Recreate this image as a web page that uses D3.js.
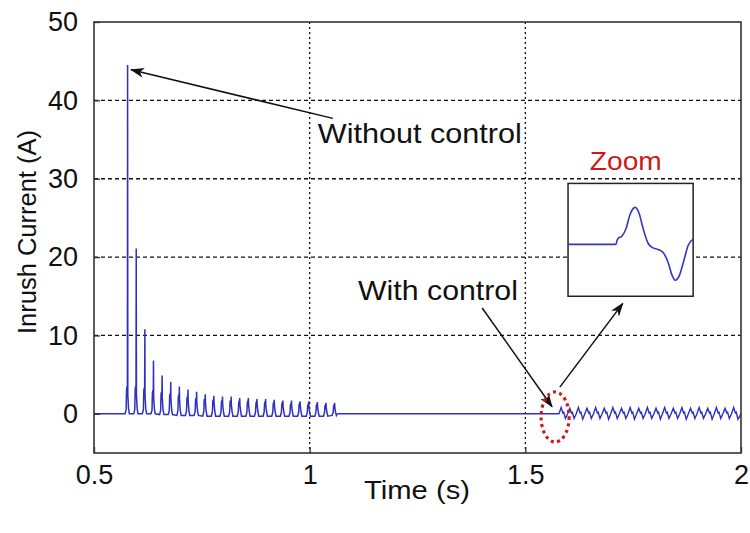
<!DOCTYPE html>
<html>
<head>
<meta charset="utf-8">
<title>Inrush Current</title>
<style>
  body { margin: 0; background: #fff; }
  svg text { font-family: "Liberation Sans", Arial, sans-serif; }
</style>
</head>
<body>
<svg width="750" height="533"></svg>
<script src="https://d3js.org/d3.v7.min.js"></script>
<script>
// ---- data ----
var xTicks = [0.5, 1, 1.5, 2];
var yTicks = [0, 10, 20, 30, 40, 50];
var xGrid = [1, 1.5];
var yGrid = [10, 20, 30, 40];

// without control: one tall spike + a smaller hump per 50 Hz cycle
var peakTimes = [0.578, 0.598, 0.618, 0.638, 0.658, 0.678, 0.698, 0.718, 0.738,
                 0.758, 0.778, 0.798, 0.818, 0.838, 0.858, 0.878, 0.898, 0.918,
                 0.938, 0.958, 0.978, 0.998, 1.018, 1.038, 1.058];
var peakValues = [44.5, 21.1, 10.8, 6.8, 4.9, 4.1, 3.5, 3.1, 2.8,
                  2.5, 2.3, 2.2, 2.2, 2.0, 2.0, 1.9, 1.9, 1.8,
                  1.7, 1.7, 1.6, 1.6, 1.5, 1.4, 1.4];
var humpValues = [3.5, 3.5, 3.3, 3.0, 2.8, 2.6, 2.4, 2.2, 2.0,
                  1.9, 1.8, 1.7, 1.7, 1.6, 1.6, 1.5, 1.5, 1.4,
                  1.4, 1.3, 1.3, 1.2, 1.2, 1.1, 1.1];
var troughValues = [0, 0, 0, 0, -0.1, -0.1, -0.2, -0.2, -0.2,
                    -0.3, -0.3, -0.3, -0.3, -0.3, -0.3, -0.3, -0.3, -0.3,
                    -0.3, -0.3, -0.3, -0.3, -0.3, -0.3, -0.2];

// with control: small ripple after switching
var ctrlTimes = [1.578, 1.598, 1.618, 1.638, 1.658, 1.678, 1.698, 1.718, 1.738,
                 1.758, 1.778, 1.798, 1.818, 1.838, 1.858, 1.878, 1.898, 1.918,
                 1.938, 1.958, 1.978];
var ctrlPeaks = [0.8, 0.7, 0.8, 0.7, 0.8, 0.7, 0.8, 0.7, 0.8, 0.7, 0.8,
                 0.7, 0.8, 0.7, 0.8, 0.7, 0.8, 0.7, 0.8, 0.7, 0.8];
var ctrlTroughs = [-0.6, -0.6, -0.7, -0.6, -0.6, -0.7, -0.6, -0.6, -0.7, -0.6, -0.6,
                   -0.7, -0.6, -0.6, -0.7, -0.6, -0.6, -0.7, -0.6, -0.6, -0.7];

// zoomed waveform inside the inset (normalised time, relative amplitude)
var zoomT = [0, 0.384, 0.392, 0.4, 0.43, 0.464, 0.496, 0.536, 0.568, 0.6, 0.64,
             0.672, 0.72, 0.76, 0.8, 0.832, 0.856, 0.888, 0.928, 0.96, 1.0];
var zoomI = [0, 0, 0.11, 0.16, 0.22, 0.43, 0.81, 1.0, 0.84, 0.43, 0.03,
             -0.08, -0.14, -0.22, -0.49, -0.84, -0.97, -0.86, -0.41, -0.03, 0.14];

var svg = d3.select("svg"),
    margin = {top: 22, right: 9, bottom: 80, left: 94},
    width = +svg.attr("width") - margin.left - margin.right,
    height = +svg.attr("height") - margin.top - margin.bottom;

var x = d3.scaleLinear().domain([0.5, 2]).range([0, width]);
var y = d3.scaleLinear().domain([-5, 50]).range([height, 0]);

var g = svg.append("g").attr("transform", "translate(" + margin.left + "," + margin.top + ")");

// grid
g.selectAll(".hgrid").data(yGrid).enter().append("line")
    .attr("x1", 0).attr("x2", width)
    .attr("y1", function(d) { return y(d); }).attr("y2", function(d) { return y(d); })
    .attr("stroke", "#111").attr("stroke-width", 1.3).attr("stroke-dasharray", "4,3");
g.selectAll(".vgrid").data(xGrid).enter().append("line")
    .attr("y1", 0).attr("y2", height)
    .attr("x1", function(d) { return x(d); }).attr("x2", function(d) { return x(d); })
    .attr("stroke", "#111").attr("stroke-width", 1.3).attr("stroke-dasharray", "2,3");

// build the without-control trace
var noCtrl = [[0.5, 0]];
peakTimes.forEach(function(t, k) {
  var P = peakValues[k], H = humpValues[k], T = troughValues[k];
  noCtrl.push([t - 0.006, k == 0 ? 0 : T]);
  noCtrl.push([t - 0.0035, 0.15 * H]);
  noCtrl.push([t - 0.0025, 0.9 * H]);
  noCtrl.push([t - 0.0015, H]);
  noCtrl.push([t - 0.0006, 0.85 * H]);
  noCtrl.push([t - 0.0001, P]);
  noCtrl.push([t + 0.0004, 0.7 * H]);
  noCtrl.push([t + 0.002, 0.2 * H]);
  noCtrl.push([t + 0.004, T]);
});
noCtrl.push([peakTimes[peakTimes.length - 1] + 0.006, 0]);

// flat part + with-control ripple
var ctrl = [[peakTimes[peakTimes.length - 1] + 0.006, 0]];
ctrlTimes.forEach(function(t, k) {
  ctrl.push([t, 0]);
  ctrl.push([t + 0.005, ctrlPeaks[k]]);
  ctrl.push([t + 0.009, 0.1]);
  ctrl.push([t + 0.011, 0.2]);
  ctrl.push([t + 0.015, ctrlTroughs[k]]);
});
ctrl.push([2, 0]);

var line = d3.line()
    .x(function(d) { return x(d[0]); })
    .y(function(d) { return y(d[1]); });

g.append("path").datum(noCtrl)
    .attr("fill", "none").attr("stroke", "#3030c0").attr("stroke-width", 1.5)
    .attr("d", line);
g.append("path").datum(ctrl)
    .attr("fill", "none").attr("stroke", "#3030c0").attr("stroke-width", 1.4)
    .attr("d", line);

// axes frame and inward ticks
g.append("rect").attr("width", width).attr("height", height)
    .attr("fill", "none").attr("stroke", "#333").attr("stroke-width", 1.6);

g.append("g").attr("transform", "translate(0," + height + ")")
    .call(d3.axisBottom(x).tickValues(xTicks).tickSizeInner(-6).tickSizeOuter(0)
      .tickPadding(12).tickFormat(function(d) { return d; }))
    .call(function(a) {
      a.select(".domain").remove();
      a.selectAll("line").attr("stroke", "#333").attr("stroke-width", 1.3);
      a.selectAll("text").attr("font-size", 27).attr("fill", "#111")
        .attr("font-family", "Liberation Sans, Arial, sans-serif");
    });

g.append("g")
    .call(d3.axisLeft(y).tickValues(yTicks).tickSizeInner(-6).tickSizeOuter(0).tickPadding(16))
    .call(function(a) {
      a.select(".domain").remove();
      a.selectAll("line").attr("stroke", "#333").attr("stroke-width", 1.3);
      a.selectAll("text").attr("font-size", 27).attr("fill", "#111")
        .attr("font-family", "Liberation Sans, Arial, sans-serif");
    });

// axis titles
svg.append("text")
    .attr("x", 417).attr("y", 499)
    .attr("text-anchor", "middle").attr("font-size", 26).attr("fill", "#111")
    .attr("textLength", 106).attr("lengthAdjust", "spacingAndGlyphs")
    .text("Time (s)");
svg.append("text")
    .attr("transform", "translate(36,232) rotate(-90)")
    .attr("text-anchor", "middle").attr("font-size", 26).attr("fill", "#111")
    .attr("textLength", 204).attr("lengthAdjust", "spacingAndGlyphs")
    .text("Inrush Current (A)");

// arrowhead
svg.append("defs").append("marker")
    .attr("id", "arr").attr("viewBox", "0 0 14 10")
    .attr("refX", 13).attr("refY", 5)
    .attr("markerWidth", 14).attr("markerHeight", 10)
    .attr("markerUnits", "userSpaceOnUse").attr("orient", "auto")
  .append("path").attr("d", "M0,0 L14,5 L0,10 L4,5 Z").attr("fill", "#111");

function arrow(t0, i0, t1, i1) {
  g.append("line")
    .attr("x1", x(t0)).attr("y1", y(i0)).attr("x2", x(t1)).attr("y2", y(i1))
    .attr("stroke", "#111").attr("stroke-width", 1.5)
    .attr("marker-end", "url(#arr)");
}

// annotations
g.append("text").attr("x", x(1.019)).attr("y", y(34.6))
    .attr("font-size", 28).attr("fill", "#111")
    .attr("textLength", 204).attr("lengthAdjust", "spacingAndGlyphs")
    .text("Without control");
arrow(1.054, 37.7, 0.586, 43.9);

g.append("text").attr("x", x(1.112)).attr("y", y(14.5))
    .attr("font-size", 28).attr("fill", "#111")
    .attr("textLength", 160).attr("lengthAdjust", "spacingAndGlyphs")
    .text("With control");
arrow(1.40, 13.5, 1.562, 0.9);
arrow(1.580, 3.4, 1.726, 14.1);

// red dotted ellipse
g.append("ellipse")
    .attr("cx", x(1.569)).attr("cy", y(-0.4)).attr("rx", 14).attr("ry", 25)
    .attr("fill", "none").attr("stroke", "#d01818").attr("stroke-width", 3.2)
    .attr("stroke-dasharray", "3,3.5");

// inset
var ix0 = x(1.599), ix1 = x(1.889), iy0 = y(29.4), iy1 = y(15.0);
var ins = g.append("g").attr("transform", "translate(" + ix0 + "," + iy0 + ")");
ins.append("rect").attr("width", ix1 - ix0).attr("height", iy1 - iy0)
    .attr("fill", "#fff").attr("stroke", "#222").attr("stroke-width", 1.5);
var zx = d3.scaleLinear().domain([0, 1]).range([0, ix1 - ix0]);
var zy = d3.scaleLinear().domain([-1.405, 1.649]).range([iy1 - iy0, 0]);
ins.append("path").datum(d3.zip(zoomT, zoomI))
    .attr("fill", "none").attr("stroke", "#3434c8").attr("stroke-width", 1.6)
    .attr("d", d3.line().curve(d3.curveMonotoneX)
      .x(function(d) { return zx(d[0]); })
      .y(function(d) { return zy(d[1]); }));

g.append("text").attr("x", x(1.733)).attr("y", y(31.1))
    .attr("text-anchor", "middle").attr("font-size", 26).attr("fill", "#d01818")
    .attr("textLength", 72).attr("lengthAdjust", "spacingAndGlyphs")
    .text("Zoom");
</script>
</body>
</html>
